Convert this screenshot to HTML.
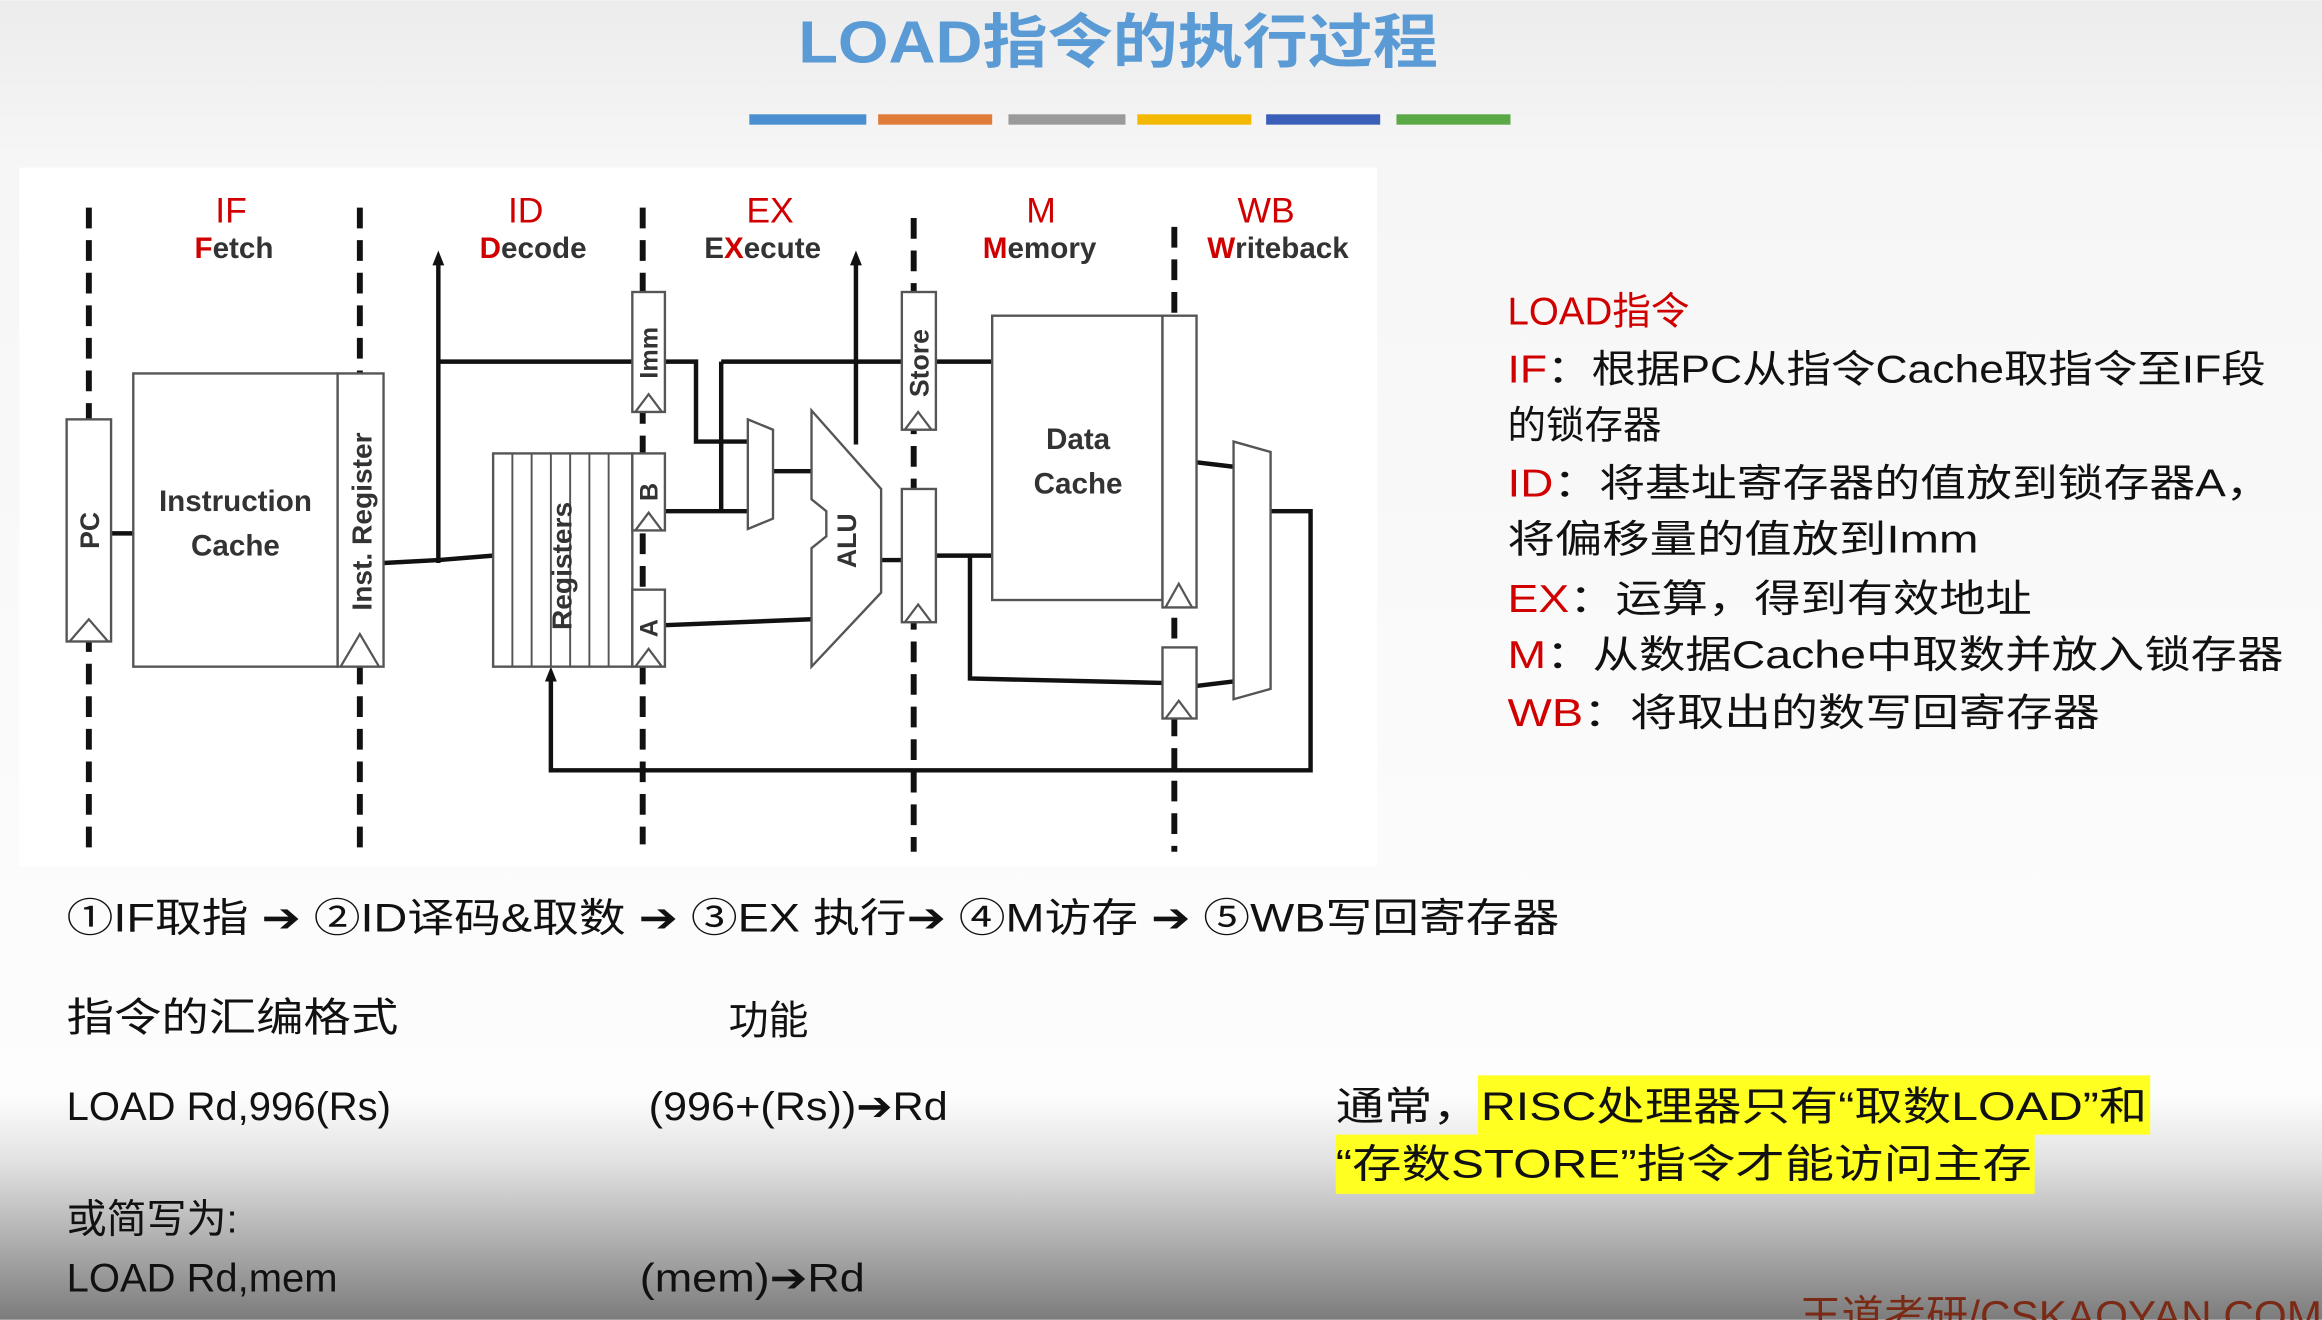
<!DOCTYPE html>
<html><head><meta charset="utf-8"><style>
html,body{margin:0;padding:0;width:2322px;height:1320px;overflow:hidden;background:#fff}
svg{display:block}
text{font-family:"Liberation Sans","Noto Sans CJK SC",sans-serif}
</style></head><body>
<svg width="2322" height="1320" viewBox="0 0 1568 891" xmlns="http://www.w3.org/2000/svg">
<defs>
<linearGradient id="bg" x1="0" y1="0" x2="0" y2="1">
<stop offset="0" stop-color="#ececec"/><stop offset="0.12" stop-color="#f6f6f6"/>
<stop offset="0.83" stop-color="#fdfdfd"/><stop offset="0.88" stop-color="#e2e2e2"/>
<stop offset="1" stop-color="#7c7c7c"/></linearGradient>
</defs>
<rect width="1568" height="891" fill="url(#bg)"/>
<text x="755" y="42" text-anchor="middle" font-size="40" font-weight="bold" fill="#5b9bd5" textLength="432" lengthAdjust="spacingAndGlyphs">LOAD指令的执行过程</text>
<rect x="506" y="77" width="79" height="7" fill="#4a8fd0"/>
<rect x="593" y="77" width="77" height="7" fill="#e07b39"/>
<rect x="681" y="77" width="79" height="7" fill="#9a9a9a"/>
<rect x="768" y="77" width="77" height="7" fill="#f5b800"/>
<rect x="855" y="77" width="77" height="7" fill="#3b5fb8"/>
<rect x="943" y="77" width="77" height="7" fill="#5aa846"/>

<rect x="13" y="113" width="917" height="472" fill="#fff"/>
<g stroke="#111" stroke-width="4" stroke-dasharray="14,8">
<line x1="60" y1="140" x2="60" y2="580"/><line x1="243" y1="140" x2="243" y2="580"/>
<line x1="434" y1="140" x2="434" y2="570"/><line x1="617" y1="147" x2="617" y2="575"/>
<line x1="793" y1="153" x2="793" y2="575"/></g>
<g font-size="24" fill="#d00000" text-anchor="middle"><text x="156" y="150">IF</text><text x="355" y="150">ID</text><text x="520" y="150">EX</text><text x="703" y="150">M</text><text x="855" y="150">WB</text></g>
<g font-size="20" font-weight="bold" fill="#333" text-anchor="middle">
<text x="158" y="174"><tspan fill="#d00000">F</tspan>etch</text>
<text x="360" y="174"><tspan fill="#d00000">D</tspan>ecode</text>
<text x="515" y="174">E<tspan fill="#d00000">X</tspan>ecute</text>
<text x="702" y="174"><tspan fill="#d00000">M</tspan>emory</text>
<text x="863" y="174"><tspan fill="#d00000">W</tspan>riteback</text></g>
<g fill="none" stroke="#111" stroke-width="3">
<line x1="75" y1="360" x2="90" y2="360"/>
<polyline points="259,380 296,378 333,375"/>
<line x1="296" y1="380" x2="296" y2="178"/>
<line x1="296" y1="244" x2="427" y2="244"/>
<polyline points="449,244 470,244 470,298 505,298"/>
<line x1="487" y1="244" x2="670" y2="244"/>
<line x1="487" y1="244" x2="487" y2="345"/>
<line x1="449" y1="345" x2="505" y2="345"/>
<line x1="522" y1="318" x2="548" y2="318"/>
<line x1="449" y1="422" x2="548" y2="418"/>
<line x1="578" y1="300" x2="578" y2="178"/>
<line x1="595" y1="378" x2="609" y2="378"/>
<line x1="632" y1="375" x2="670" y2="375"/>
<polyline points="655,375 655,458 785,461"/>
<line x1="808" y1="312" x2="833" y2="315"/>
<line x1="808" y1="463" x2="833" y2="460"/>
<polyline points="858,345 885,345 885,520 372,520 372,458"/>
</g>
<path d="M296,169 l-4,10 h8z M578,169 l-4,10 h8z M372,450 l-4,10 h8z" fill="#111"/>
<g fill="#fff" stroke="#555" stroke-width="1.6">
<rect x="45" y="283" width="30" height="150"/>
<rect x="90" y="252" width="138" height="198"/>
<rect x="228" y="252" width="31" height="198"/>
<rect x="333" y="306" width="94" height="144"/>
<rect x="427" y="197" width="22" height="81"/>
<rect x="427" y="306" width="22" height="52"/>
<rect x="427" y="398" width="22" height="52"/>
<rect x="609" y="197" width="23" height="93"/>
<rect x="609" y="330" width="23" height="90"/>
<rect x="670" y="213" width="115" height="192"/>
<rect x="785" y="213" width="23" height="197"/>
<rect x="785" y="437" width="23" height="48"/>
<path d="M505,283 L522,290 L522,350 L505,357z"/>
<path d="M548,277 L595,330 L595,400 L548,450 L548,370 L558,362 L558,345 L548,337z"/>
<path d="M833,298 L858,305 L858,465 L833,472z"/>
</g>
<g stroke="#555" stroke-width="1.3">
<line x1="346" y1="306" x2="346" y2="450"/><line x1="359" y1="306" x2="359" y2="450"/>
<line x1="372" y1="306" x2="372" y2="450"/><line x1="385" y1="306" x2="385" y2="450"/>
<line x1="398" y1="306" x2="398" y2="450"/><line x1="411" y1="306" x2="411" y2="450"/>
</g>
<g fill="none" stroke="#555" stroke-width="1.5">
<path d="M47,433 L60,418 L73,433"/><path d="M230,450 L243,428 L256,450"/>
<path d="M429,278 L438,266 L447,278"/><path d="M429,358 L438,346 L447,358"/><path d="M429,450 L438,438 L447,450"/>
<path d="M611,290 L620,278 L629,290"/><path d="M611,420 L620,408 L629,420"/>
<path d="M787,410 L796,394 L805,410"/><path d="M787,485 L796,473 L805,485"/>
</g>
<g fill="#333" font-weight="bold" font-size="18">
<text transform="translate(67,358) rotate(-90)" text-anchor="middle">PC</text>
<text transform="translate(251,352) rotate(-90)" text-anchor="middle" font-size="19">Inst. Register</text>
<text transform="translate(386,382) rotate(-90)" text-anchor="middle" font-size="19">Registers</text>
<text transform="translate(444,238) rotate(-90)" text-anchor="middle" font-size="17">Imm</text>
<text transform="translate(444,332) rotate(-90)" text-anchor="middle" font-size="17">B</text>
<text transform="translate(444,424) rotate(-90)" text-anchor="middle" font-size="17">A</text>
<text transform="translate(627,245) rotate(-90)" text-anchor="middle" font-size="18">Store</text>
<text transform="translate(578,365) rotate(-90)" text-anchor="middle" font-size="18">ALU</text>
<text x="159" y="345" text-anchor="middle" font-size="20">Instruction</text>
<text x="159" y="375" text-anchor="middle" font-size="20">Cache</text>
<text x="728" y="303" text-anchor="middle" font-size="20">Data</text>
<text x="728" y="333" text-anchor="middle" font-size="20">Cache</text>
</g>

<g font-size="26" fill="#111">
<text x="1018" y="219" fill="#d00000">LOAD指令</text>
<text x="1018" y="258" textLength="512" lengthAdjust="spacingAndGlyphs"><tspan fill="#d00000">IF</tspan>：根据PC从指令Cache取指令至IF段</text>
<text x="1018" y="296">的锁存器</text>
<text x="1018" y="335" textLength="516" lengthAdjust="spacingAndGlyphs"><tspan fill="#d00000">ID</tspan>：将基址寄存器的值放到锁存器A，</text>
<text x="1018" y="373" textLength="318" lengthAdjust="spacingAndGlyphs">将偏移量的值放到Imm</text>
<text x="1018" y="413" textLength="354" lengthAdjust="spacingAndGlyphs"><tspan fill="#d00000">EX</tspan>：运算，得到有效地址</text>
<text x="1018" y="451" textLength="524" lengthAdjust="spacingAndGlyphs"><tspan fill="#d00000">M</tspan>：从数据Cache中取数并放入锁存器</text>
<text x="1018" y="490" textLength="400" lengthAdjust="spacingAndGlyphs"><tspan fill="#d00000">WB</tspan>：将取出的数写回寄存器</text>
</g>
<g font-size="27" fill="#111">
<text x="45" y="629" textLength="1008" lengthAdjust="spacingAndGlyphs">①IF取指 ➔ ②ID译码&amp;取数 ➔ ③EX 执行➔ ④M访存 ➔ ⑤WB写回寄存器</text>
<text x="45" y="696" textLength="224" lengthAdjust="spacingAndGlyphs">指令的汇编格式</text>
<text x="492" y="698">功能</text>
<text x="45" y="756">LOAD  Rd,996(Rs)</text>
<text x="438" y="756" textLength="202" lengthAdjust="spacingAndGlyphs">(996+(Rs))➔Rd</text>
<rect x="998" y="726" width="454" height="40" fill="#ffff22"/>
<rect x="902" y="766" width="472" height="40" fill="#ffff22"/>
<text x="902" y="756" textLength="548" lengthAdjust="spacingAndGlyphs">通常，RISC处理器只有“取数LOAD”和</text>
<text x="902" y="795" textLength="470" lengthAdjust="spacingAndGlyphs">“存数STORE”指令才能访问主存</text>
<text x="45" y="832">或简写为:</text>
<text x="45" y="872">LOAD  Rd,mem</text>
<text x="432" y="872" textLength="152" lengthAdjust="spacingAndGlyphs">(mem)➔Rd</text>
</g>
<text x="1215" y="898" font-size="28" fill="#7a2a15" textLength="353" lengthAdjust="spacingAndGlyphs">王道考研/CSKAOYAN.COM</text>
</svg>
</body></html>
